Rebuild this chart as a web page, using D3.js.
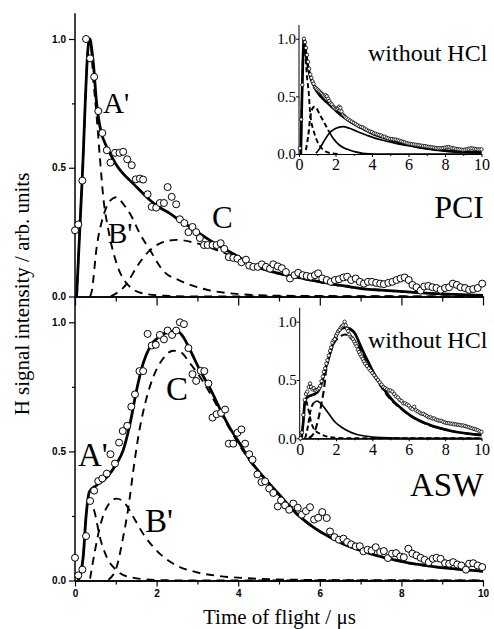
<html>
<head>
<script src="https://d3js.org/d3.v7.min.js"></script>
<style type="text/css">
body { margin: 0; background-color: white; }
text { fill: black; }
</style>
</head>
<body>
<script>
// ---- PCI (top panel) ----
let pciPoints = [
  [0, 0.257], [0.08, 0.28], [0.18, 0.45], [0.27, 1.0], [0.37, 0.925], [0.47, 0.853], [0.57, 0.72],
  [0.67, 0.635], [0.78, 0.568], [0.87, 0.52], [0.98, 0.558], [1.09, 0.558], [1.18, 0.562], [1.28, 0.533],
  [1.39, 0.51], [1.49, 0.455], [1.59, 0.458], [1.67, 0.454], [1.78, 0.397], [1.88, 0.348], [1.99, 0.345],
  [2.08, 0.363], [2.18, 0.363], [2.27, 0.425], [2.37, 0.387], [2.48, 0.358], [2.57, 0.30], [2.68, 0.285],
  [2.78, 0.25], [2.88, 0.27], [2.97, 0.25], [3.06, 0.227], [3.16, 0.20], [3.25, 0.20], [3.37, 0.20],
  [3.47, 0.20], [3.57, 0.207], [3.66, 0.185], [3.77, 0.153], [3.88, 0.15], [3.98, 0.147], [4.08, 0.133],
  [4.19, 0.143], [4.27, 0.12], [4.37, 0.115], [4.48, 0.115], [4.58, 0.125], [4.68, 0.115], [4.78, 0.108],
  [4.86, 0.125], [4.97, 0.117], [5.07, 0.11], [5.17, 0.095], [5.27, 0.07], [5.38, 0.083], [5.47, 0.092],
  [5.58, 0.083], [5.68, 0.08], [5.78, 0.077], [5.88, 0.083], [5.96, 0.09], [6.06, 0.07], [6.17, 0.064],
  [6.27, 0.057], [6.37, 0.064], [6.47, 0.067], [6.58, 0.074], [6.67, 0.077], [6.77, 0.064], [6.88, 0.07],
  [6.98, 0.057], [7.08, 0.05], [7.18, 0.057], [7.28, 0.057], [7.38, 0.053], [7.48, 0.05], [7.57, 0.048],
  [7.68, 0.053], [7.78, 0.057], [7.88, 0.064], [7.98, 0.07], [8.08, 0.074], [8.18, 0.064], [8.27, 0.045],
  [8.37, 0.036], [8.47, 0.023], [8.56, 0.039], [8.66, 0.041], [8.76, 0.036], [8.86, 0.033], [8.96, 0.026],
  [9.07, 0.033], [9.17, 0.036], [9.26, 0.05], [9.36, 0.045], [9.45, 0.036], [9.56, 0.033], [9.66, 0.026],
  [9.76, 0.029], [9.87, 0.033], [9.98, 0.05]
];
let pciFit = [
  [0.04, 0], [0.18, 0.47], [0.33, 0.98], [0.37, 1.0], [0.41, 0.96], [0.45, 0.905], [0.53, 0.75],
  [0.6, 0.67], [0.65, 0.633], [0.75, 0.59], [0.86, 0.555], [1.0, 0.515], [1.18, 0.477], [1.35, 0.45],
  [1.51, 0.425], [1.84, 0.374], [2.08, 0.345], [2.33, 0.322], [2.57, 0.295], [2.82, 0.27], [3.06, 0.244],
  [3.31, 0.218], [3.55, 0.195], [3.8, 0.173], [4.05, 0.15], [4.29, 0.127], [4.6, 0.107], [5.0, 0.09],
  [5.43, 0.075], [5.85, 0.062], [6.25, 0.05], [6.65, 0.04], [7.07, 0.03], [7.5, 0.025], [7.88, 0.021],
  [8.3, 0.016], [8.7, 0.012], [9.3, 0.008], [10, 0.004]
];
let pciA = [
  [0.04, 0], [0.18, 0.47], [0.33, 0.98], [0.37, 1.0], [0.45, 0.84], [0.53, 0.70], [0.61, 0.54],
  [0.69, 0.39], [0.82, 0.257], [1.02, 0.128], [1.27, 0.05], [1.67, 0.012], [2.2, 0.003], [3, 0], [10, 0]
];
let pciB = [
  [0.37, 0], [0.41, 0.02], [0.53, 0.19], [0.69, 0.31], [0.85, 0.37], [1.02, 0.386], [1.18, 0.36],
  [1.39, 0.31], [1.59, 0.244], [1.84, 0.18], [2.16, 0.10], [2.57, 0.062], [3.14, 0.03], [3.96, 0.01],
  [5, 0.003], [10, 0]
];
let pciC = [
  [0.87, 0], [1.27, 0.05], [1.51, 0.114], [1.84, 0.18], [2.14, 0.21], [2.49, 0.22], [2.9, 0.21],
  [3.31, 0.19], [3.8, 0.16], [4.29, 0.127], [4.6, 0.107], [5.0, 0.088], [5.43, 0.073], [5.85, 0.06],
  [6.25, 0.048], [7.07, 0.03], [7.88, 0.02], [8.7, 0.012], [10, 0.004]
];

// ---- PCI inset (without HCl) ----
let pciInsetPoints = [
  [0.05, 0.05], [0.12, 0.3], [0.18, 0.6], [0.27, 1.0], [0.33, 0.97], [0.38, 0.92], [0.44, 0.86],
  [0.5, 0.80], [0.56, 0.74], [0.62, 0.69], [0.68, 0.66], [0.74, 0.63], [0.8, 0.61], [0.87, 0.58],
  [0.93, 0.57], [1.0, 0.56], [1.07, 0.55], [1.13, 0.54], [1.2, 0.53], [1.27, 0.52], [1.33, 0.51],
  [1.4, 0.50], [1.46, 0.51], [1.53, 0.50], [1.6, 0.48], [1.66, 0.46], [1.73, 0.44], [1.8, 0.43],
  [1.87, 0.41], [1.93, 0.40], [2.0, 0.39], [2.07, 0.39], [2.13, 0.40], [2.2, 0.41], [2.27, 0.40],
  [2.33, 0.37], [2.4, 0.34], [2.47, 0.33], [2.53, 0.32], [2.6, 0.31], [2.7, 0.30], [2.8, 0.29],
  [2.9, 0.28], [3.0, 0.27], [3.1, 0.26], [3.2, 0.25], [3.3, 0.24], [3.4, 0.235], [3.5, 0.23],
  [3.6, 0.22], [3.7, 0.21], [3.8, 0.20], [3.9, 0.195], [4.0, 0.19], [4.1, 0.18], [4.2, 0.175],
  [4.3, 0.17], [4.4, 0.165], [4.5, 0.16], [4.6, 0.15], [4.7, 0.15], [4.8, 0.14], [4.9, 0.135],
  [5.0, 0.13], [5.1, 0.13], [5.2, 0.125], [5.3, 0.125], [5.4, 0.12], [5.5, 0.115], [5.6, 0.11],
  [5.7, 0.105], [5.8, 0.10], [5.9, 0.095], [6.0, 0.09], [6.1, 0.088], [6.2, 0.085], [6.3, 0.082],
  [6.4, 0.08], [6.5, 0.078], [6.6, 0.075], [6.7, 0.072], [6.8, 0.07], [6.9, 0.068], [7.0, 0.065],
  [7.1, 0.062], [7.2, 0.06], [7.3, 0.058], [7.4, 0.055], [7.5, 0.052], [7.6, 0.05], [7.7, 0.05],
  [7.8, 0.05], [7.9, 0.052], [8.0, 0.055], [8.1, 0.058], [8.2, 0.06], [8.3, 0.055], [8.4, 0.05],
  [8.5, 0.048], [8.6, 0.045], [8.7, 0.042], [8.8, 0.04], [8.9, 0.038], [9.0, 0.035], [9.1, 0.038],
  [9.2, 0.04], [9.3, 0.045], [9.4, 0.05], [9.5, 0.048], [9.6, 0.045], [9.7, 0.042], [9.8, 0.04],
  [9.9, 0.04], [10.0, 0.04]
];
let pciInsetFit = [
  [0.1, 0], [0.15, 0.4], [0.22, 0.85], [0.27, 1.0], [0.32, 0.95], [0.4, 0.85], [0.48, 0.77],
  [0.56, 0.71], [0.66, 0.65], [0.8, 0.6], [0.93, 0.555], [1.04, 0.53], [1.3, 0.48], [1.59, 0.44],
  [1.85, 0.40], [2.14, 0.36], [2.4, 0.325], [2.87, 0.275], [3.13, 0.25], [3.78, 0.197], [4.2, 0.165],
  [4.7, 0.139], [5.2, 0.115], [5.61, 0.095], [6.1, 0.077], [6.53, 0.061], [7.0, 0.048], [7.44, 0.038],
  [7.9, 0.03], [8.36, 0.023], [8.8, 0.019], [9.27, 0.016], [10, 0.013]
];
let pciInsetA = [
  [0.1, 0], [0.15, 0.4], [0.22, 0.85], [0.27, 1.0], [0.35, 0.85], [0.45, 0.65], [0.53, 0.54],
  [0.6, 0.38], [0.66, 0.29], [0.75, 0.23], [0.84, 0.18], [1.0, 0.11], [1.11, 0.078], [1.3, 0.04],
  [1.48, 0.02], [1.8, 0.006], [2.3, 0]
];
let pciInsetB = [
  [0.38, 0.035], [0.45, 0.1], [0.53, 0.19], [0.6, 0.3], [0.7, 0.38], [0.84, 0.41], [0.95, 0.40],
  [1.11, 0.35], [1.39, 0.27], [1.66, 0.19], [1.9, 0.13], [2.21, 0.078], [2.5, 0.05], [2.76, 0.035],
  [3.1, 0.018], [3.49, 0.006], [4.2, 0], [10, 0]
];
let pciInsetC = [
  [0.93, 0.006], [1.1, 0.04], [1.3, 0.093], [1.48, 0.14], [1.66, 0.18], [1.85, 0.207], [2.03, 0.223],
  [2.4, 0.237], [2.76, 0.223], [3.22, 0.193], [3.68, 0.165], [4.2, 0.135], [4.7, 0.115], [5.2, 0.097],
  [5.6, 0.083], [6.1, 0.07], [6.5, 0.058], [7.0, 0.047], [7.5, 0.037], [8.0, 0.03], [8.5, 0.022],
  [9.0, 0.018], [10, 0.012]
];

// ---- ASW (bottom panel) ----
let aswPoints = [
  [0, 0.088], [0.08, 0.02], [0.18, 0.042], [0.27, 0.172], [0.37, 0.308], [0.47, 0.348], [0.57, 0.385],
  [0.67, 0.395], [0.78, 0.414], [0.87, 0.489], [0.98, 0.453], [1.08, 0.534], [1.17, 0.579], [1.28, 0.599],
  [1.38, 0.673], [1.47, 0.721], [1.58, 0.811], [1.67, 0.811], [1.78, 0.955], [1.88, 0.91], [1.98, 0.913],
  [2.08, 0.951], [2.18, 0.934], [2.27, 0.968], [2.38, 0.951], [2.48, 0.968], [2.57, 1.0], [2.67, 0.993],
  [2.78, 0.90], [2.88, 0.799], [2.97, 0.773], [3.08, 0.812], [3.17, 0.811], [3.27, 0.763], [3.37, 0.631],
  [3.47, 0.644], [3.58, 0.649], [3.68, 0.662], [3.77, 0.53], [3.88, 0.53], [3.98, 0.572], [4.08, 0.585],
  [4.17, 0.53], [4.27, 0.489], [4.35, 0.468], [4.47, 0.411], [4.57, 0.381], [4.66, 0.384], [4.76, 0.356],
  [4.86, 0.339], [4.97, 0.287], [5.05, 0.31], [5.15, 0.291], [5.25, 0.274], [5.35, 0.298], [5.46, 0.282],
  [5.56, 0.255], [5.66, 0.269], [5.76, 0.284], [5.86, 0.236], [5.96, 0.243], [6.06, 0.265], [6.17, 0.242],
  [6.25, 0.19], [6.36, 0.168], [6.47, 0.158], [6.58, 0.162], [6.67, 0.149], [6.77, 0.14], [6.88, 0.132],
  [6.98, 0.133], [7.07, 0.113], [7.17, 0.119], [7.27, 0.116], [7.37, 0.129], [7.48, 0.11], [7.57, 0.114],
  [7.67, 0.087], [7.77, 0.104], [7.87, 0.106], [7.97, 0.093], [8.06, 0.09], [8.17, 0.123], [8.27, 0.104],
  [8.37, 0.097], [8.47, 0.088], [8.57, 0.08], [8.67, 0.071], [8.77, 0.084], [8.86, 0.088], [8.96, 0.084],
  [9.07, 0.067], [9.17, 0.065], [9.27, 0.071], [9.37, 0.062], [9.47, 0.058], [9.58, 0.042], [9.66, 0.065],
  [9.76, 0.067], [9.87, 0.058], [9.98, 0.052]
];
let aswFit = [
  [0.08, 0], [0.2, 0.09], [0.27, 0.246], [0.35, 0.343], [0.53, 0.369], [0.78, 0.40], [1.02, 0.453],
  [1.18, 0.504], [1.35, 0.608], [1.51, 0.738], [1.67, 0.841], [1.84, 0.906], [2.08, 0.947], [2.33, 0.964],
  [2.49, 0.968], [2.65, 0.944], [2.82, 0.893], [3.06, 0.815], [3.31, 0.744], [3.55, 0.666], [3.8, 0.59],
  [4.04, 0.53], [4.29, 0.466], [4.62, 0.401], [5.02, 0.33], [5.43, 0.259], [5.84, 0.207], [6.25, 0.168],
  [6.66, 0.136], [7.07, 0.113], [7.48, 0.093], [7.88, 0.078], [8.29, 0.065], [8.7, 0.056], [9.11, 0.048],
  [9.52, 0.042], [10, 0.036]
];
let aswA = [
  [0.08, 0], [0.2, 0.09], [0.27, 0.246], [0.33, 0.323], [0.38, 0.31], [0.49, 0.259], [0.61, 0.168],
  [0.78, 0.09], [1.02, 0.039], [1.35, 0.013], [2, 0.002], [3, 0], [10, 0]
];
let aswB = [
  [0.37, 0.007], [0.49, 0.116], [0.61, 0.207], [0.78, 0.284], [1.02, 0.317], [1.23, 0.298], [1.43, 0.246],
  [1.67, 0.181], [2.0, 0.116], [2.41, 0.065], [2.98, 0.032], [3.55, 0.017], [4.2, 0.009], [5, 0.004],
  [6, 0.002], [10, 0]
];
let aswC = [
  [0.82, 0.003], [1.02, 0.052], [1.18, 0.168], [1.31, 0.284], [1.43, 0.427], [1.55, 0.556], [1.72, 0.686],
  [1.92, 0.789], [2.16, 0.86], [2.41, 0.89], [2.57, 0.886], [2.82, 0.841], [3.14, 0.77], [3.47, 0.68],
  [3.8, 0.585], [4.29, 0.462], [4.62, 0.398], [5.02, 0.327], [5.43, 0.257], [5.84, 0.205], [6.25, 0.166],
  [6.66, 0.135], [7.07, 0.112], [7.48, 0.092], [7.88, 0.077], [8.29, 0.064], [8.7, 0.055], [9.11, 0.047],
  [9.52, 0.041], [10, 0.035]
];

// ---- ASW inset (without HCl) ----
let aswInsetPoints = [
  [0.05, 0.0], [0.12, 0.05], [0.2, 0.2], [0.28, 0.33], [0.35, 0.38], [0.42, 0.40], [0.5, 0.44],
  [0.57, 0.47], [0.63, 0.44], [0.7, 0.42], [0.77, 0.43], [0.85, 0.41], [0.92, 0.41], [1.0, 0.42],
  [1.07, 0.43], [1.13, 0.45], [1.2, 0.49], [1.27, 0.53], [1.33, 0.57], [1.4, 0.60], [1.47, 0.64],
  [1.53, 0.67], [1.6, 0.71], [1.67, 0.75], [1.73, 0.78], [1.8, 0.82], [1.87, 0.84], [1.93, 0.85],
  [2.0, 0.88], [2.07, 0.90], [2.13, 0.92], [2.2, 0.93], [2.27, 0.95], [2.33, 0.96], [2.4, 0.97],
  [2.47, 1.0], [2.53, 0.97], [2.6, 0.94], [2.67, 0.92], [2.73, 0.89], [2.8, 0.87], [2.87, 0.86],
  [2.93, 0.85], [3.0, 0.83], [3.07, 0.81], [3.13, 0.79], [3.2, 0.76], [3.27, 0.74], [3.33, 0.72],
  [3.4, 0.70], [3.47, 0.68], [3.53, 0.66], [3.6, 0.64], [3.7, 0.62], [3.8, 0.60], [3.9, 0.58],
  [4.0, 0.56], [4.1, 0.54], [4.2, 0.52], [4.3, 0.50], [4.4, 0.48], [4.5, 0.46], [4.6, 0.44],
  [4.7, 0.43], [4.8, 0.42], [4.9, 0.41], [5.0, 0.41], [5.1, 0.40], [5.2, 0.38], [5.3, 0.36],
  [5.4, 0.35], [5.5, 0.33], [5.6, 0.32], [5.7, 0.30], [5.8, 0.30], [5.9, 0.29], [6.0, 0.28],
  [6.1, 0.26], [6.2, 0.25], [6.3, 0.27], [6.4, 0.24], [6.5, 0.23], [6.6, 0.22], [6.7, 0.21],
  [6.8, 0.21], [6.9, 0.20], [7.0, 0.19], [7.1, 0.18], [7.2, 0.18], [7.3, 0.17], [7.4, 0.17],
  [7.5, 0.16], [7.6, 0.155], [7.7, 0.15], [7.8, 0.15], [7.9, 0.14], [8.0, 0.135], [8.1, 0.13],
  [8.2, 0.13], [8.3, 0.125], [8.4, 0.125], [8.5, 0.12], [8.6, 0.12], [8.7, 0.115], [8.8, 0.115],
  [8.9, 0.11], [9.0, 0.11], [9.1, 0.105], [9.2, 0.10], [9.3, 0.095], [9.4, 0.09], [9.5, 0.085],
  [9.6, 0.08], [9.7, 0.075], [9.8, 0.07], [9.9, 0.06], [10.0, 0.055]
];
let aswInsetFit = [
  [0.1, 0], [0.2, 0.15], [0.28, 0.31], [0.35, 0.34], [0.46, 0.357], [0.65, 0.37], [0.83, 0.38],
  [1.0, 0.40], [1.13, 0.44], [1.28, 0.515], [1.45, 0.614], [1.56, 0.67], [1.75, 0.77], [1.93, 0.856],
  [2.1, 0.91], [2.29, 0.94], [2.5, 0.95], [2.66, 0.946], [2.85, 0.93], [3.03, 0.90], [3.3, 0.81],
  [3.58, 0.714], [3.85, 0.63], [4.13, 0.543], [4.5, 0.45], [4.86, 0.372], [5.2, 0.31], [5.59, 0.257],
  [6.0, 0.205], [6.51, 0.157], [7.0, 0.125], [7.42, 0.10], [7.9, 0.08], [8.34, 0.063], [8.8, 0.05],
  [9.26, 0.04], [10, 0.028]
];
let aswInsetA = [
  [0.1, 0], [0.2, 0.15], [0.28, 0.3], [0.33, 0.33], [0.4, 0.3], [0.47, 0.25], [0.53, 0.214],
  [0.62, 0.142], [0.75, 0.09], [0.9, 0.06], [1.17, 0.035], [1.5, 0.015], [2, 0.004], [3, 0], [10, 0]
];
let aswInsetB = [
  [0.3, 0], [0.45, 0.1], [0.6, 0.24], [0.75, 0.3], [0.95, 0.32], [1.15, 0.3], [1.38, 0.257],
  [1.65, 0.2], [1.93, 0.142], [2.3, 0.095], [2.66, 0.063], [3.1, 0.035], [3.58, 0.02], [4.5, 0.006],
  [6, 0], [10, 0]
];
let aswInsetC = [
  [0.5, 0], [0.8, 0.05], [1.0, 0.15], [1.2, 0.3], [1.35, 0.44], [1.45, 0.58], [1.65, 0.72],
  [1.9, 0.82], [2.2, 0.87], [2.5, 0.89], [2.8, 0.87], [3.1, 0.82], [3.5, 0.72], [4.1, 0.54],
  [4.8, 0.37], [5.6, 0.25], [6.5, 0.155], [7.4, 0.098], [8.3, 0.062], [9.3, 0.04], [10, 0.028]
];

let yMajor = [0, 0.5, 1.0];
let yMinor = [0.25, 0.75];
let xMajor = [0, 2, 4, 6, 8, 10];
let xMinor = [1, 3, 5, 7, 9];

let width = 494;
let height = 629;
let serif = "'Liberation Serif', 'Times New Roman', serif";
let sans = "'Liberation Sans Narrow', 'Liberation Sans', Arial, sans-serif";

let svg = d3.select("body").append("svg")
    .attr("width", width)
    .attr("height", height)
    .attr("viewBox", [0, 0, width, height]);

let x = d3.scaleLinear().domain([0, 10]).range([75, 483]);
let yTop = d3.scaleLinear().domain([0, 1]).range([296.5, 39]);
let yBot = d3.scaleLinear().domain([0, 1]).range([580.5, 322.3]);
let xInTop = d3.scaleLinear().domain([0, 10]).range([299, 481.5]);
let yInTop = d3.scaleLinear().domain([0, 1]).range([154, 38.7]);
let xInBot = d3.scaleLinear().domain([0, 10]).range([299.7, 481.5]);
let yInBot = d3.scaleLinear().domain([0, 1]).range([438.3, 321.7]);

function drawCurve(g, data, sx, sy, width, dash) {
    let line = d3.line()
        .x(d => sx(d[0]))
        .y(d => sy(d[1]))
        .curve(d3.curveMonotoneX);
    g.append("path")
        .datum(data)
        .attr("d", line)
        .attr("fill", "none")
        .attr("stroke", "black")
        .attr("stroke-width", width)
        .attr("stroke-dasharray", dash)
        .attr("stroke-linejoin", "round");
}

function drawPoints(g, data, sx, sy, r, sw) {
    g.append("g").selectAll("circle")
        .data(data)
        .enter()
        .append("circle")
        .attr("cx", d => sx(d[0]))
        .attr("cy", d => sy(d[1]))
        .attr("r", r)
        .attr("fill", "white")
        .attr("stroke", "black")
        .attr("stroke-width", sw);
}

// main panel axes
function mainYAxis(sy) {
    let g = svg.append("g").attr("transform", "translate(" + x(0) + ",0)");
    g.call(d3.axisLeft(sy).tickValues(yMajor).tickSize(6).tickSizeOuter(0).tickFormat(d3.format(".1f")));
    g.append("g").call(d3.axisLeft(sy).tickValues(yMinor).tickSize(3).tickSizeOuter(0).tickFormat(""));
    g.selectAll(".domain").remove();
    g.append("line")
        .attr("y1", sy(0) + 0.5).attr("y2", sy(1.1))
        .attr("stroke", "black").attr("stroke-width", 1.5);
    g.selectAll("text")
        .attr("font-family", sans).attr("font-weight", "bold").attr("font-size", 10)
        .attr("x", -9).attr("fill", "black");
    g.selectAll(".tick line").attr("stroke-width", 1.2);
    return g;
}

function mainXAxis(sy, major, minor, labels) {
    let g = svg.append("g").attr("transform", "translate(0," + sy(0) + ")");
    let ax = d3.axisBottom(x).tickValues(xMajor).tickSize(major).tickSizeOuter(0);
    if (!labels) ax.tickFormat("");
    g.call(ax);
    g.append("g").call(d3.axisBottom(x).tickValues(xMinor).tickSize(minor).tickSizeOuter(0).tickFormat(""));
    g.selectAll(".domain").attr("stroke-width", 1.5);
    g.selectAll(".tick line").attr("stroke-width", 1.2);
    g.selectAll("text")
        .attr("font-family", sans).attr("font-weight", "bold").attr("font-size", 10)
        .attr("y", 9).attr("fill", "black");
    return g;
}

mainYAxis(yTop);
mainXAxis(yTop, 9, 5, false);
mainYAxis(yBot);
mainXAxis(yBot, 6, 4, true);

// inset axes
function insetAxes(sx, sy, labelY) {
    let g = svg.append("g");
    let gy = g.append("g").attr("transform", "translate(" + sx(0) + ",0)");
    gy.call(d3.axisLeft(sy).tickValues(yMajor).tickSize(3).tickSizeOuter(0).tickFormat(d3.format(".1f")));
    gy.selectAll(".domain").remove();
    gy.append("line").attr("y1", sy(0)).attr("y2", sy(1.12)).attr("stroke", "black").attr("stroke-width", 1);
    gy.selectAll("text").attr("font-family", serif).attr("font-size", 15).attr("x", -3).attr("fill", "black");
    let gx = g.append("g").attr("transform", "translate(0," + sy(0) + ")");
    gx.call(d3.axisBottom(sx).tickValues(xMajor).tickSize(3).tickSizeOuter(0).tickFormat(d3.format("d")));
    gx.append("g").call(d3.axisBottom(sx).tickValues(xMinor).tickSize(2).tickSizeOuter(0).tickFormat(""));
    gx.selectAll(".domain").attr("stroke-width", 1.2);
    gx.selectAll("text").attr("font-family", serif).attr("font-size", 16).attr("y", labelY).attr("dy", 0).attr("fill", "black");
}
insetAxes(xInTop, yInTop, 15.5);
insetAxes(xInBot, yInBot, 16.5);

// top panel curves
let gTop = svg.append("g");
drawCurve(gTop, pciA, x, yTop, 1.9, "8,6");
drawCurve(gTop, pciB, x, yTop, 1.9, "8,6");
drawCurve(gTop, pciC, x, yTop, 1.9, "8,6");
drawCurve(gTop, pciFit, x, yTop, 2.8, null);
drawPoints(gTop, pciPoints, x, yTop, 3.5, 1);

// bottom panel curves
let gBot = svg.append("g");
drawCurve(gBot, aswA, x, yBot, 1.9, "8,6");
drawCurve(gBot, aswB, x, yBot, 1.9, "8,6");
drawCurve(gBot, aswC, x, yBot, 1.9, "8,6");
drawCurve(gBot, aswFit, x, yBot, 2.8, null);
drawPoints(gBot, aswPoints, x, yBot, 3.5, 1);

// top inset
let gInT = svg.append("g");
drawCurve(gInT, pciInsetA, xInTop, yInTop, 1.9, "5,3");
drawCurve(gInT, pciInsetB.filter(d => d[0] <= 1.66), xInTop, yInTop, 2, "5,3");
drawCurve(gInT, pciInsetB.filter(d => d[0] >= 1.66), xInTop, yInTop, 1.7, null);
drawCurve(gInT, pciInsetC, xInTop, yInTop, 1.7, null);
drawCurve(gInT, pciInsetFit, xInTop, yInTop, 2.7, null);
drawPoints(gInT, pciInsetPoints, xInTop, yInTop, 1.7, 0.8);

// bottom inset
let gInB = svg.append("g");
drawCurve(gInB, aswInsetA, xInBot, yInBot, 1.9, "5,3");
drawCurve(gInB, aswInsetB.filter(d => d[0] <= 0.75), xInBot, yInBot, 2, "5,3");
drawCurve(gInB, aswInsetB.filter(d => d[0] >= 0.75), xInBot, yInBot, 1.7, null);
drawCurve(gInB, aswInsetC, xInBot, yInBot, 2.1, "7,4");
drawCurve(gInB, aswInsetFit, xInBot, yInBot, 2.7, null);
drawPoints(gInB, aswInsetPoints, xInBot, yInBot, 1.7, 0.8);

// labels
function label(txt, px, py, size, anchor) {
    svg.append("text")
        .text(txt)
        .attr("x", px)
        .attr("y", py)
        .attr("font-family", serif)
        .attr("font-size", size)
        .attr("text-anchor", anchor || "start");
}
label("A'", 103, 113, 29);
label("B'", 108, 243, 29);
label("C", 212, 228, 31);
label("PCI", 484, 218, 32, "end");
label("without HCl", 368, 61, 24);
label("A'", 78, 466, 33);
label("C", 166, 400, 33);
label("B'", 145, 532, 33);
label("ASW", 410, 496, 33);
label("without HCl", 368, 348, 24);

svg.append("text")
    .text("H signal intensity / arb. units")
    .attr("transform", "translate(29,294) rotate(-90)")
    .attr("text-anchor", "middle")
    .attr("font-family", serif)
    .attr("font-size", 21);
svg.append("text")
    .text("Time of flight / \u03bcs")
    .attr("x", 203)
    .attr("y", 624)
    .attr("font-family", serif)
    .attr("font-size", 21);
</script>
</body>
</html>
